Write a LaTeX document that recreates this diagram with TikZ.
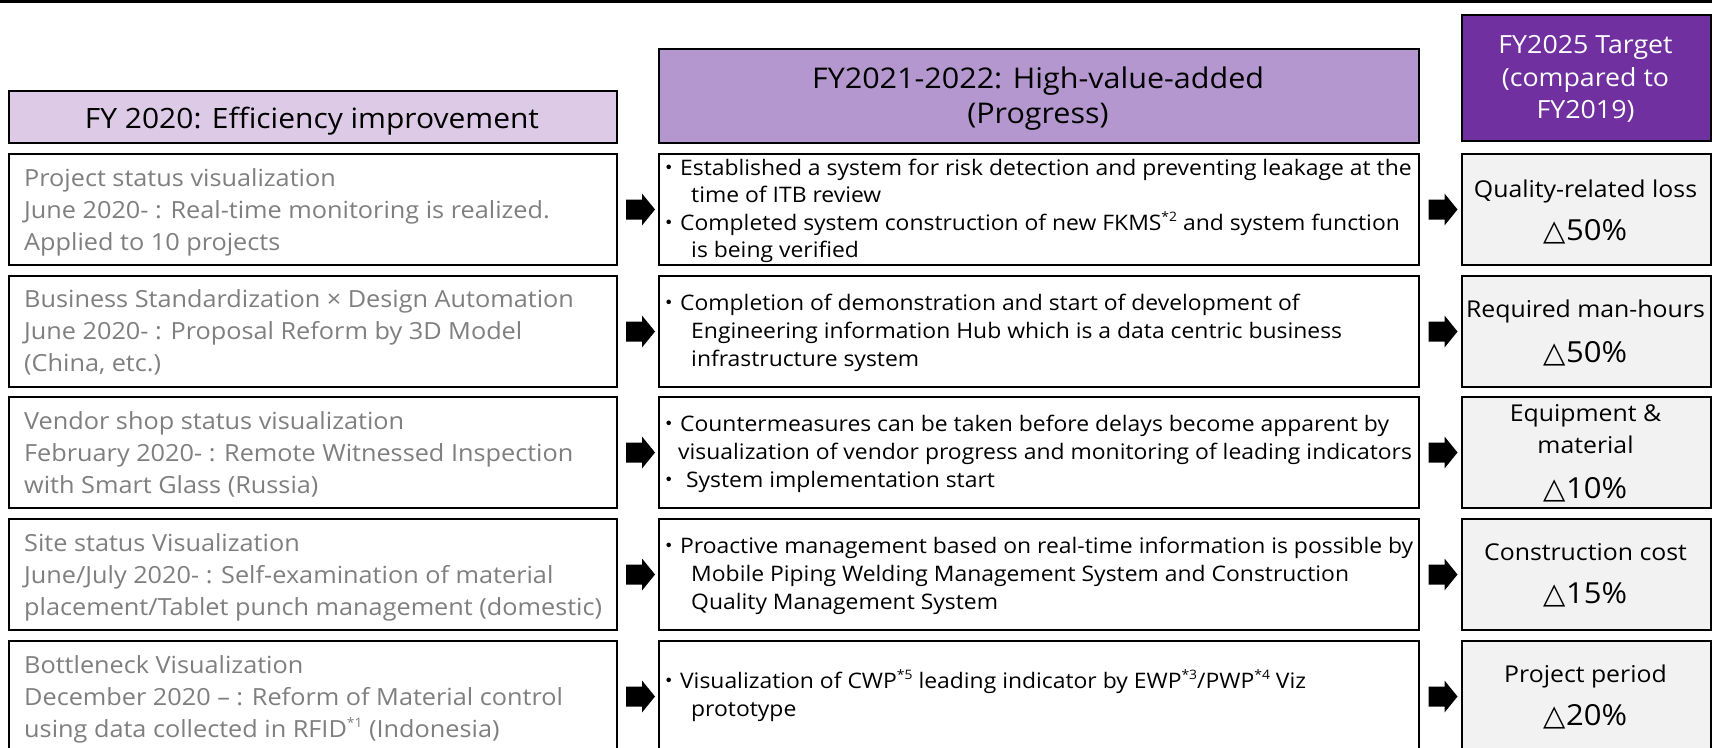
\documentclass[tikz,border=0pt]{standalone}
\usepackage{fontspec}
\setmainfont[FakeStretch=1.07]{Open Sans}
\newfontfamily\cjkfont{Noto Sans CJK JP}
\newfontfamily\symfont{DejaVu Sans}
\usetikzlibrary{calc}
\definecolor{hdrA}{HTML}{DCCAE6}
\definecolor{hdrB}{HTML}{B497CF}
\definecolor{hdrC}{HTML}{7030A0}
\definecolor{tgt}{HTML}{F2F2F2}
\definecolor{greytxt}{HTML}{7F7F7F}
\newcommand{\mybul}{{\cjkfont ・}}
\newcommand{\mytri}{{\symfont △}}
\newcommand{\mysup}[1]{\raisebox{0.42em}{\fontsize{13}{13}\selectfont #1}}
\begin{document}
\begin{tikzpicture}[x=1pt,y=-1pt,
  box/.style={draw=black, line width=2pt, inner sep=0pt, anchor=north west},
  lbox/.style={box, fill=white, minimum width=608pt, minimum height=111pt},
  mbox/.style={box, fill=white, minimum width=760pt, minimum height=111pt},
  rbox/.style={box, fill=tgt, minimum width=249pt, minimum height=111pt},
  lt/.style={anchor=base west, inner sep=0pt, text=greytxt, font=\fontsize{23.6}{28}\selectfont},
  mt/.style={anchor=base west, inner sep=0pt, font=\fontsize{21.4}{26}\selectfont},
  rt/.style={anchor=base, inner sep=0pt, font=\fontsize{23.2}{28}\selectfont},
  rv/.style={anchor=base, inner sep=0pt, font=\fontsize{29}{34}\selectfont},
  ht/.style={anchor=base, inner sep=0pt},
  blockarrow/.pic={\fill[black] (-14,-10) -- (2,-10) -- (2,-16) -- (15,0) -- (2,16) -- (2,10) -- (-14,10) -- cycle;}
]
\useasboundingbox (0,0) rectangle (1712,747);
\clip (0,0) rectangle (1712,747);
\fill[white] (0,0) rectangle (1712,747);
\fill[black] (0,0) rectangle (1712,3);

% headers
\node[box, fill=hdrA, minimum width=608pt, minimum height=52pt] (HL) at (8,90) {};
\node[box, fill=hdrB, minimum width=760pt, minimum height=94pt] (HM) at (658,48) {};
\node[box, fill=hdrC, minimum width=249pt, minimum height=126pt] (HR) at (1461,14) {};
\node[ht, font=\fontsize{28}{32}\selectfont] (HLt) at (312,128) {FY 2020: Efficiency improvement};
\node[ht, font=\fontsize{28.5}{32}\selectfont] (HMt1) at (1038,88) {FY2021-2022: High-value-added};
\node[ht, font=\fontsize{28.5}{32}\selectfont] (HMt2) at (1038,123) {(Progress)};
\node[ht, text=white, font=\fontsize{25}{30}\selectfont] (HRt1) at (1585.5,53) {FY2025 Target};
\node[ht, text=white, font=\fontsize{25}{30}\selectfont] (HRt2) at (1585.5,86) {(compared to};
\node[ht, text=white, font=\fontsize{25}{30}\selectfont] (HRt3) at (1585.5,118) {FY2019)};

% boxes
\node[lbox] (L1) at (8,153) {};
\node[lbox] (L2) at (8,275) {};
\node[lbox] (L3) at (8,396) {};
\node[lbox] (L4) at (8,518) {};
\node[lbox] (L5) at (8,640) {};
\node[mbox] (M1) at (658,153) {};
\node[mbox] (M2) at (658,275) {};
\node[mbox] (M3) at (658,396) {};
\node[mbox] (M4) at (658,518) {};
\node[mbox] (M5) at (658,640) {};
\node[rbox] (R1) at (1461,153) {};
\node[rbox] (R2) at (1461,275) {};
\node[rbox] (R3) at (1461,396) {};
\node[rbox] (R4) at (1461,518) {};
\node[rbox] (R5) at (1461,640) {};

% arrows
\foreach \i in {1,...,5}{
  \coordinate (A\i) at ($(L\i.east)!0.5!(M\i.west)$);
  \coordinate (B\i) at ($(M\i.east)!0.5!(R\i.west)$);
  \pic at ([xshift=2pt]A\i) {blockarrow};
  \pic at ([xshift=2pt]B\i) {blockarrow};
}

% left texts
\node[lt] (L1a) at (24,186) {Project status visualization};
\node[lt] (L1b) at (24,218) {June 2020- : Real-time monitoring is realized.};
\node[lt] (L1c) at (24,250) {Applied to 10 projects};
\node[lt] (L2a) at (24,307) {Business Standardization × Design Automation};
\node[lt] (L2b) at (24,339) {June 2020- : Proposal Reform by 3D Model};
\node[lt] (L2c) at (24,371) {(China, etc.)};
\node[lt] (L3a) at (24,429) {Vendor shop status visualization};
\node[lt] (L3b) at (24,461) {February 2020- : Remote Witnessed Inspection};
\node[lt] (L3c) at (24,493) {with Smart Glass (Russia)};
\node[lt] (L4a) at (24,551) {Site status Visualization};
\node[lt] (L4b) at (24,583) {June/July 2020- : Self-examination of material};
\node[lt] (L4c) at (24,615) {placement/Tablet punch management (domestic)};
\node[lt] (L5a) at (24,673) {Bottleneck Visualization};
\node[lt] (L5b) at (24,705) {December 2020 – : Reform of Material control};
\node[lt] (L5c) at (24,737) {using data collected in RFID\mysup{*1} (Indonesia)};

% middle texts
\node[mt] (M1a) at (658.5,175) {\mybul Established a system for risk detection and preventing leakage at the};
\node[mt] (M1b) at (691,202) {time of ITB review};
\node[mt] (M1c) at (658.5,230) {\mybul Completed system construction of new FKMS\mysup{*2} and system function};
\node[mt] (M1d) at (691,257) {is being verified};
\node[mt] (M2a) at (658.5,310) {\mybul Completion of demonstration and start of development of};
\node[mt] (M2b) at (691,338) {Engineering information Hub which is a data centric business};
\node[mt] (M2c) at (691,366) {infrastructure system};
\node[mt] (M3a) at (658.5,431) {\mybul Countermeasures can be taken before delays become apparent by};
\node[mt] (M3b) at (678,459) {visualization of vendor progress and monitoring of leading indicators};
\node[mt] (M3c) at (658.5,487) {\mybul\hspace{6pt}System implementation start};
\node[mt] (M4a) at (658.5,553) {\mybul Proactive management based on real-time information is possible by};
\node[mt] (M4b) at (691,581) {Mobile Piping Welding Management System and Construction};
\node[mt] (M4c) at (691,609) {Quality Management System};
\node[mt] (M5a) at (658.5,688) {\mybul Visualization of CWP\mysup{*5} leading indicator by EWP\mysup{*3}/PWP\mysup{*4} Viz};
\node[mt] (M5b) at (691,716) {prototype};

% right texts
\node[rt] (R1a) at (1585.5,197) {Quality-related loss};
\node[rv] (R1b) at (1585.5,240) {\mytri 50\%};
\node[rt] (R2a) at (1585.5,317) {Required man-hours};
\node[rv] (R2b) at (1585.5,362) {\mytri 50\%};
\node[rt] (R3a) at (1585.5,421) {Equipment \&};
\node[rt] (R3b) at (1585.5,453) {material};
\node[rv] (R3c) at (1585.5,498) {\mytri 10\%};
\node[rt] (R4a) at (1585.5,560) {Construction cost};
\node[rv] (R4b) at (1585.5,603) {\mytri 15\%};
\node[rt] (R5a) at (1585.5,682) {Project period};
\node[rv] (R5b) at (1585.5,725) {\mytri 20\%};
\end{tikzpicture}
\end{document}
